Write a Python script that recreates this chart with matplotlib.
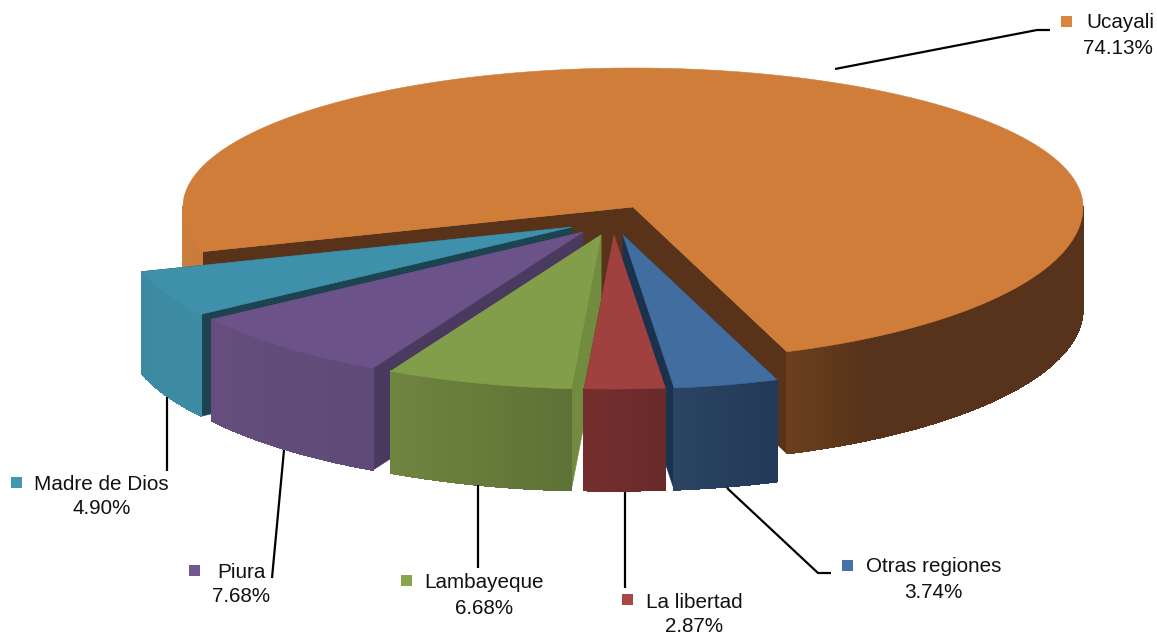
import matplotlib
matplotlib.use("Agg")
import matplotlib.pyplot as plt
from matplotlib.colors import to_rgb
from matplotlib.patches import Polygon, Rectangle
import numpy as np

plt.rcParams['font.family'] = ['Liberation Sans', 'DejaVu Sans']

# slices run clockwise (as seen from above) starting at the front right
regions = ["Otras regiones", "La libertad", "Lambayeque", "Piura", "Madre de Dios", "Ucayali"]
shares = [3.74, 2.87, 6.68, 7.68, 4.90, 74.13]

top_colors = ['#426DA0', '#A04140', '#839E4A', '#6B5289', '#3F91AB', '#D07D3A']
key_colors = ['#4572A7', '#AA4643', '#89A54E', '#71588F', '#4198AF', '#DB843D']
rim_colors = [('#233958', '#2A4462'), ('#692A2A', '#752E2E'), ('#5F7236', '#6F843F'),
              ('#5F4A77', '#654E7D'), ('#3D8CA3', '#3B8AA1'), ('#6A3F1E', '#56331A')]
cut_colors = ['#1B324F', '#6B2A2A', '#728C3F', '#4B3A5F', '#1C4350', '#58331A']

# layout, in pixels
CENTER = (633, 207)
RX, RY_FRONT, RY_BACK = 450, 154, 139
DEPTH = 102
START = 20
explode = [(-10, 28), (-19, 28), (-32, 28), (-50, 25), (-61, 20), (0, 0)]
draw_order = [5, 4, 3, 2, 0, 1]

# legend key left, key top, name left, name y, percent centre x, percent y
label_pos = [(842, 560, 866, 567, 933, 593),
             (622, 594, 646, 602, 694, 626),
             (401, 575, 424, 583, 484, 608),
             (189, 565, 217, 572, 241, 597),
             (11, 477, 34, 484, 102, 509),
             (1061, 16, 1086, 23, 1118, 49)]
leaders = [([727, 818, 831], [488, 573, 573]),
           ([625, 625], [492, 588]),
           ([478, 478], [485, 568]),
           ([284, 272], [450, 578]),
           ([167, 167], [397, 471]),
           ([835, 1037, 1050], [69, 30, 30])]


def rim(cx, cy, theta):
    theta = np.radians(theta)
    c = np.cos(theta)
    ry = np.where(c >= 0, RY_FRONT, RY_BACK)
    return cx + RX * np.sin(theta), cy + ry * c


def fill(ax, xy, color, aa=True):
    ax.add_patch(Polygon(xy, closed=True, facecolor=color, edgecolor=color, linewidth=0.4, antialiased=aa))


def outer_wall(ax, cx, cy, t0, t1, c0, c1, step=1.0):
    # shaded strips along the outer edge of a slice
    n = max(int(abs(t1 - t0) / step), 1)
    ts = np.linspace(t0, t1, n + 1)
    c0, c1 = np.array(to_rgb(c0)), np.array(to_rgb(c1))
    for i in range(n):
        x, y = rim(cx, cy, ts[i:i + 2])
        f = i / max(n - 1, 1)
        fill(ax, [(x[0], y[0]), (x[1], y[1]), (x[1], y[1] + DEPTH), (x[0], y[0] + DEPTH)],
             tuple(c0 + (c1 - c0) * f), aa=False)


def draw_slice(ax, i, t0, t1):
    cx, cy = CENTER[0] + explode[i][0], CENTER[1] + explode[i][1]
    # the two cut faces first, the parts that are not visible get covered below
    for t in (t0, t1):
        x, y = rim(cx, cy, t)
        fill(ax, [(cx, cy), (x, y), (x, y + DEPTH), (cx, cy + DEPTH)], cut_colors[i])
    if regions[i] == "Ucayali":
        outer_wall(ax, cx, cy, t0, -90, '#C87D3C', '#CC7E3B')
        outer_wall(ax, cx, cy, -270, -328, '#56331A', '#56331A')
        outer_wall(ax, cx, cy, -328, t1, '#56331A', '#6A3F1E')
    else:
        outer_wall(ax, cx, cy, t0, t1, rim_colors[i][0], rim_colors[i][1])
    x, y = rim(cx, cy, np.linspace(t0, t1, 300))
    fill(ax, np.vstack([[cx, cy], np.column_stack([x, y])]), top_colors[i])


fig = plt.figure(figsize=(11.57, 6.35), dpi=100)
ax = fig.add_axes([0, 0, 1, 1])
ax.set_xlim(0, 1157)
ax.set_ylim(635, 0)
ax.axis('off')

edges = START - np.concatenate([[0], np.cumsum(shares)]) * 360 / sum(shares)
for i in draw_order:
    draw_slice(ax, i, edges[i], edges[i + 1])

for i, name in enumerate(regions):
    ax.plot(leaders[i][0], leaders[i][1], color='black', linewidth=1.6, solid_capstyle='butt')
    kx, ky, nx, ny, px, py = label_pos[i]
    ax.add_patch(Rectangle((kx, ky), 11, 11, facecolor=key_colors[i], edgecolor='none'))
    ax.text(nx, ny, name, ha='left', va='center', fontsize=14.9, color='#111111')
    ax.text(px, py, f"{shares[i]:.2f}%", ha='center', va='center', fontsize=14.9, color='#111111')

fig.savefig("out.png", dpi=100)
